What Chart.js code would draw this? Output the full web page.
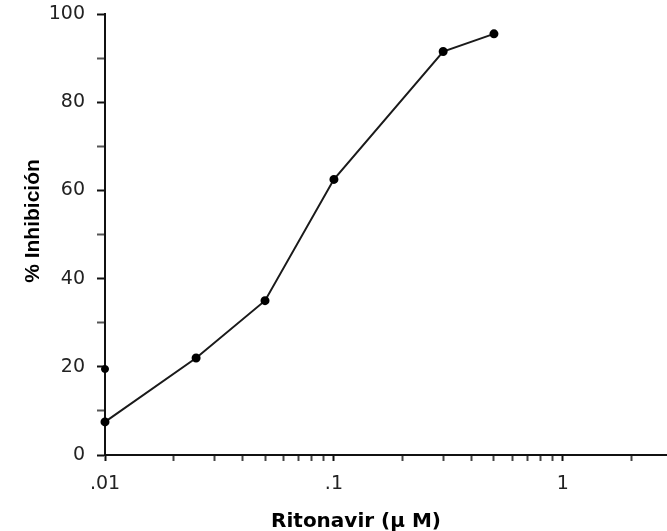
<!DOCTYPE html>
<html>
<head>
<meta charset="utf-8">
<script src="https://cdn.jsdelivr.net/npm/chart.js@4"></script>
<style>
  html, body { margin: 0; padding: 0; background: #fff; }
  #wrap { width: 667px; height: 531px; }
</style>
</head>
<body>
<div id="wrap"><canvas id="chart" width="667" height="531"></canvas></div>
<script>
// values
const concentrations = [0.01, 0.025, 0.05, 0.1, 0.3, 0.5];
const inhibition = [7.5, 22, 35, 62.5, 91.5, 95.5];
const extraConc = [0.01];
const extraInhib = [19.5];

const xMajorTicks = [0.01, 0.1, 1];
const xMajorLabels = ['.01', '.1', '1'];
const xMinorTicks = [0.02, 0.03, 0.04, 0.05, 0.06, 0.07, 0.08, 0.09,
  0.2, 0.3, 0.4, 0.5, 0.6, 0.7, 0.8, 0.9, 2];
const yTicks = [0, 10, 20, 30, 40, 50, 60, 70, 80, 90, 100];
const yLabelled = [0, 20, 40, 60, 80, 100];

const xTitle = 'Ritonavir (\u00b5 M)';
const yTitle = '% Inhibición';

const WIDE = '"DejaVu Sans", Verdana, sans-serif';
const NARROW = '"Liberation Sans", Arial, sans-serif';

// axis titles sit a little off-centre in the original, so draw them by hand
const axisTitles = {
  id: 'axisTitles',
  afterDraw: (chart) => {
    const ctx = chart.ctx;
    const area = chart.chartArea;
    ctx.save();
    ctx.fillStyle = '#000';
    ctx.textAlign = 'center';
    ctx.textBaseline = 'alphabetic';
    ctx.font = 'bold 20px ' + WIDE;
    ctx.fillText(xTitle, area.left + 251, 527);
    ctx.translate(39, area.top + 207);
    ctx.rotate(-Math.PI / 2);
    ctx.font = 'bold 21px ' + NARROW;
    ctx.fillText(yTitle, 0, 0);
    ctx.restore();
  }
};

new Chart(document.getElementById('chart').getContext('2d'), {
  type: 'scatter',
  data: {
    datasets: [{
      data: concentrations.map((c, i) => ({ x: c, y: inhibition[i] })),
      showLine: true,
      borderColor: '#1a1a1a',
      borderWidth: 2,
      pointRadius: 3.5,
      pointBackgroundColor: '#000',
      pointBorderColor: '#000',
      clip: false
    }, {
      data: extraConc.map((c, i) => ({ x: c, y: extraInhib[i] })),
      showLine: false,
      pointRadius: 3.5,
      pointBackgroundColor: '#000',
      pointBorderColor: '#000',
      clip: false
    }]
  },
  plugins: [axisTitles],
  options: {
    responsive: false,
    animation: false,
    layout: { autoPadding: false, padding: { top: 14, right: 0, left: 0, bottom: 0 } },
    plugins: { legend: { display: false }, tooltip: { enabled: false } },
    scales: {
      x: {
        type: 'logarithmic',
        min: 0.01,
        max: 2.85,
        afterBuildTicks: (axis) => {
          axis.ticks = xMajorTicks.concat(xMinorTicks).sort((a, b) => a - b).map(v => ({ value: v }));
        },
        afterFit: (axis) => {
          axis.height = 76;
          axis.paddingLeft = 0;
          axis.paddingRight = 0;
        },
        border: { display: true, color: '#111', width: 2 },
        grid: {
          drawOnChartArea: false, drawTicks: true, tickLength: 6, tickWidth: 2,
          tickColor: (c) => xMajorTicks.some(t => Math.abs(t - c.tick.value) < 1e-9) ? '#111' : '#444'
        },
        ticks: {
          autoSkip: false,
          maxRotation: 0,
          padding: 12,
          color: '#222',
          font: { family: WIDE, size: 19 },
          callback: (v) => {
            const i = xMajorTicks.findIndex(t => Math.abs(t - v) < 1e-9);
            return i >= 0 ? xMajorLabels[i] : '';
          }
        },
        title: { display: false }
      },
      y: {
        min: 0,
        max: 100,
        afterBuildTicks: (axis) => {
          axis.ticks = yTicks.map(v => ({ value: v }));
        },
        afterFit: (axis) => {
          axis.width = 105;
          axis.paddingTop = 0;
          axis.paddingBottom = 0;
        },
        border: { display: true, color: '#111', width: 2 },
        grid: {
          drawOnChartArea: false, drawTicks: true, tickLength: 8, tickWidth: 2,
          tickColor: (c) => yLabelled.includes(c.tick.value) ? '#111' : '#555'
        },
        ticks: {
          autoSkip: false,
          padding: 12,
          color: '#222',
          font: { family: WIDE, size: 19 },
          callback: (v) => yLabelled.includes(v) ? String(v) : ''
        },
        title: { display: false }
      }
    }
  }
});
</script>
</body>
</html>
